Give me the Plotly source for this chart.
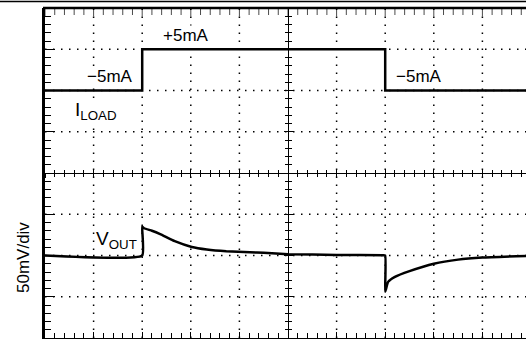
import plotly.graph_objects as go

# ---- data (scope screen, x in divisions) ----
# load current step, mA
t_load = [0.0, 2.0, 2.0, 7.0, 7.0, 9.9]
i_load = [-5, -5, 5, 5, -5, -5]

# output voltage deviation, mV (50mV/div)
t_vout = [0.0, 2.0, 2.0, 2.04, 2.2, 2.37, 2.67, 3.02, 3.33, 3.73, 4.22, 4.5,
          5.0, 6.0, 6.95, 7.0, 7.0, 7.02, 7.06, 7.2, 7.5, 8.0, 8.5, 9.0, 9.9]
v_dev = [0, 0, 35, 33, 30, 26, 17.4, 10.4, 7.3, 5.2, 4.0, 3.2,
         1.6, 0.7, 0.3, 0, -44, -40, -32, -26, -19, -10, -5, -2.5, -0.5]

# trace offsets on screen (divisions from centre)
load_offset = 2.5      # -5mA sits at +2 div, +5mA at +3 div
load_scale = 0.1       # div per mA
vout_offset = -2.0
vout_scale = 1 / 50.0  # div per mV

labels = [
    (2.9, 3.34, "+5mA", 17),
    (1.34, 2.33, "\u22125mA", 17),
    (7.7, 2.33, "\u22125mA", 17),
    (1.05, 1.5, "I<sub>LOAD</sub>", 19),
    (1.48, -1.63, "V<sub>OUT</sub>", 19),
]

W, H = 526, 339
ML, MT, MB = 45, 8, 1
xmax = (W - ML) / 48.6
FAMILY = "Liberation Sans, Arial, sans-serif"

fig = go.Figure()
fig.add_trace(go.Scatter(
    x=t_load, y=[load_offset + v * load_scale for v in i_load],
    mode="lines", line=dict(color="black", width=2.5), hoverinfo="skip"))
fig.add_trace(go.Scatter(
    x=t_vout, y=[vout_offset + v * vout_scale for v in v_dev],
    mode="lines", line=dict(color="black", width=2.5, shape="spline", smoothing=0.4),
    hoverinfo="skip"))

# top frame ticks (half of each marker is clipped by the frame)
top_ticks = [i * 0.2 for i in range(int(xmax / 0.2) + 1)]
fig.add_trace(go.Scatter(
    x=top_ticks, y=[4] * len(top_ticks), mode="markers", cliponaxis=True,
    marker=dict(symbol="line-ns", size=[12 if abs(t - round(t)) < 1e-6 else 10 for t in top_ticks],
                line=dict(color="black", width=1)),
    hoverinfo="skip"))

for x, y, txt, size in labels:
    fig.add_annotation(x=x, y=y, text=txt, showarrow=False, bgcolor="white", borderpad=0,
                       font=dict(family=FAMILY, size=size, color="black"),
                       xanchor="center", yanchor="middle")

fig.add_annotation(xref="paper", yref="paper", x=-22 / (W - ML), y=(338 - 258) / (H - MT - MB),
                   xanchor="center", yanchor="middle",
                   text="50mV/div", textangle=-90, showarrow=False,
                   font=dict(family=FAMILY, size=17, color="black"))

# thin rule across the top of the picture, and the top edge of the frame
rule_y = 1 + 6.5 / (H - MT - MB)
fig.add_shape(type="line", xref="paper", yref="paper",
              x0=-ML / (W - ML), x1=1, y0=rule_y, y1=rule_y,
              line=dict(color="black", width=1.5))
fig.add_shape(type="line", xref="paper", yref="paper",
              x0=-2 / (W - ML), x1=1, y0=1, y1=1,
              line=dict(color="black", width=2.5))

# dotted graticule
for gx in range(1, 10):
    if gx != 5:
        fig.add_shape(type="line", x0=gx, x1=gx, y0=-4, y1=4, layer="below",
                      line=dict(color="black", width=1.5, dash="1.5px,6.5px"))
for gy in range(-3, 4):
    if gy != 0:
        fig.add_shape(type="line", x0=0, x1=xmax, y0=gy, y1=gy, layer="below",
                      line=dict(color="black", width=1.5, dash="1.5px,6.5px"))

base = dict(showgrid=False, zeroline=False, showticklabels=False, tickcolor="black",
            tickwidth=1, automargin=False)

fig.update_layout(
    width=W, height=H,
    margin=dict(l=ML, r=0, t=MT, b=MB, autoexpand=False),
    plot_bgcolor="white", paper_bgcolor="white",
    showlegend=False,
    xaxis=dict(range=[0, xmax], dtick=1, tick0=0, ticks="inside", ticklen=6,
               minor=dict(dtick=0.2, ticks="inside", ticklen=5, tickcolor="black"),
               showline=True, linecolor="black", linewidth=2.5, mirror=False, **base),
    yaxis=dict(range=[-4, 4], dtick=1, tick0=0, ticks="inside", ticklen=10,
               minor=dict(dtick=0.2, ticks="inside", ticklen=6, tickcolor="black"),
               showline=True, linecolor="black", linewidth=3, mirror=False, **base),
)

# centre cross-hair with ticks on both sides
centre = dict(showline=True, linecolor="black", linewidth=1, dtick=1, tick0=0, **base)
fig.update_layout(
    xaxis2=dict(overlaying="x", anchor="free", position=0.5, range=[0, xmax],
                ticks="inside", ticklen=4, minor=dict(dtick=0.2, ticks="inside", ticklen=3), **centre),
    xaxis3=dict(overlaying="x", anchor="free", position=0.5, range=[0, xmax],
                ticks="outside", ticklen=4, minor=dict(dtick=0.2, ticks="outside", ticklen=3), **centre),
    yaxis2=dict(overlaying="y", anchor="free", position=5 / xmax, range=[-4, 4],
                ticks="inside", ticklen=4, minor=dict(dtick=0.2, ticks="inside", ticklen=3), **centre),
    yaxis3=dict(overlaying="y", anchor="free", position=5 / xmax, range=[-4, 4],
                ticks="outside", ticklen=4, minor=dict(dtick=0.2, ticks="outside", ticklen=3), **centre),
)
# invisible traces so the overlay axes are drawn
for xa, ya in [("x2", "y2"), ("x3", "y3")]:
    fig.add_trace(go.Scatter(x=[0], y=[0], xaxis=xa, yaxis=ya, mode="markers",
                             marker=dict(opacity=0), hoverinfo="skip"))

# page body has a default 8px margin; drop it so the figure sits at the window corner
fig.write_html("out.html", config={"displayModeBar": False},
               post_script="document.body.style.margin='0';")
